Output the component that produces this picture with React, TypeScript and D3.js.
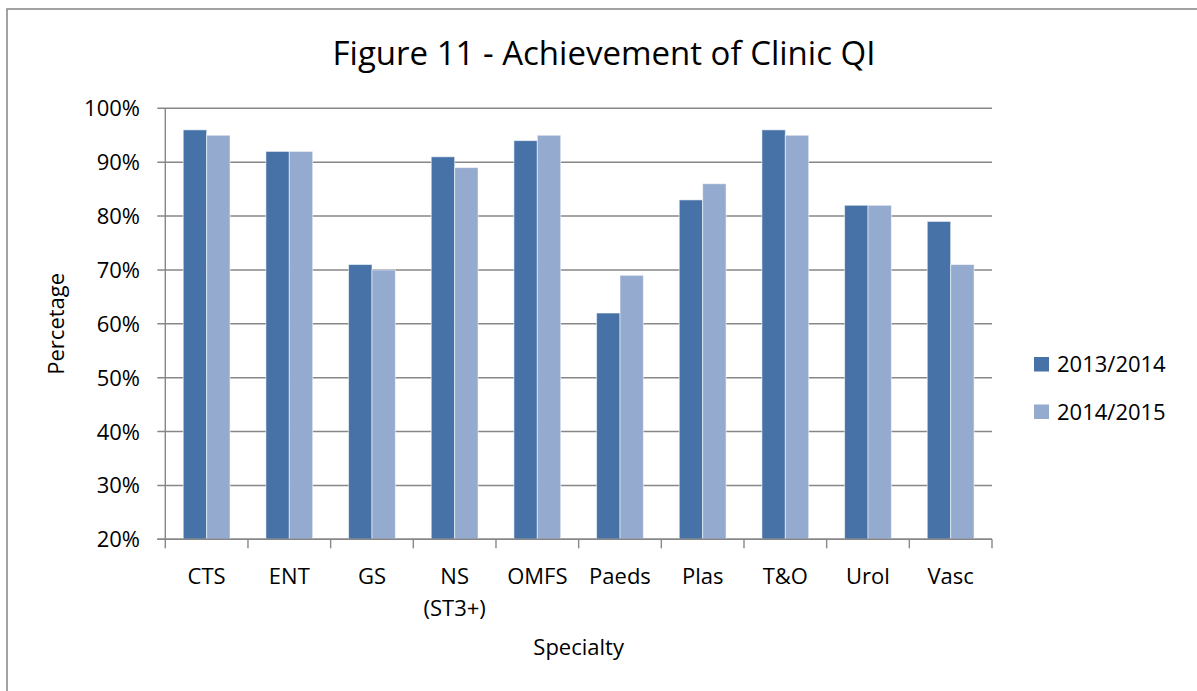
import React from "react";
import * as d3 from "d3";

const categories = ["CTS", "ENT", "GS", "NS\n(ST3+)", "OMFS", "Paeds", "Plas", "T&O", "Urol", "Vasc"];
const seriesNames = ["2013/2014", "2014/2015"];
const values2013 = [0.96, 0.92, 0.71, 0.91, 0.94, 0.62, 0.83, 0.96, 0.82, 0.79];
const values2015 = [0.95, 0.92, 0.70, 0.89, 0.95, 0.69, 0.86, 0.95, 0.82, 0.71];
const yTicks = [0.2, 0.3, 0.4, 0.5, 0.6, 0.7, 0.8, 0.9, 1.0];
const colors = ["#4672A7", "#95AACF"];

const W = 1197;
const H = 691;
const FONT = "'Open Sans', sans-serif";

export default function App() {
  const left = 165.3, right = 992, top = 108.3, bottom = 539.3;
  const x = d3.scaleBand<string>().domain(categories).range([left, right]).paddingInner(0).paddingOuter(0);
  const xs = d3.scaleBand<string>().domain(seriesNames).range([0, x.bandwidth()]).paddingInner(0).paddingOuter(0.766);
  const y = d3.scaleLinear().domain([0.2, 1]).range([bottom, top]);
  const fmt = d3.format(".0%");
  const series = [values2013, values2015];
  const gridColor = "#878787";

  return (
    <svg width={W} height={H} style={{ position: "absolute", left: 0, top: 0, display: "block", background: "#fff" }}>
      <rect x={7} y={9} width={W + 10} height={H + 10} fill="#fff" stroke="#8c8c8c" strokeWidth={1.6} />
      <text x={604} y={65} textAnchor="middle" fontFamily={FONT} fontSize={33} fill="#000">
        Figure 11 - Achievement of Clinic QI
      </text>
      {/* gridlines */}
      {yTicks.map((t) => (
        <g key={t}>
          <line x1={left - 8} x2={right} y1={y(t)} y2={y(t)} stroke={gridColor} strokeWidth={1.4} />
          <text x={140} y={y(t) + 8} textAnchor="end" fontFamily={FONT} fontSize={22} fill="#000">
            {fmt(t)}
          </text>
        </g>
      ))}
      {/* bars */}
      {series.map((vals, si) =>
        categories.map((c, i) => (
          <rect
            key={c + si}
            x={(x(c) as number) + (xs(seriesNames[si]) as number)}
            y={y(vals[i])}
            width={xs.bandwidth()}
            height={bottom - y(vals[i])}
            fill={colors[si]}
            stroke="rgba(255,255,255,0.55)"
            strokeWidth={1}
          />
        ))
      )}
      {/* axes */}
      <line x1={left} x2={left} y1={top} y2={bottom} stroke={gridColor} strokeWidth={1.4} />
      <line x1={left - 8} x2={right} y1={bottom} y2={bottom} stroke={gridColor} strokeWidth={1.4} />
      {categories.concat(["__end"]).map((c, i) => {
        const xx = i < categories.length ? (x(c) as number) : right;
        return <line key={"t" + i} x1={xx} x2={xx} y1={bottom} y2={bottom + 9} stroke={gridColor} strokeWidth={1.4} />;
      })}
      {categories.map((c) => {
        const lines = c.split("\n");
        const cx = (x(c) as number) + x.bandwidth() / 2;
        return (
          <text key={"l" + c} x={cx} y={584} textAnchor="middle" fontFamily={FONT} fontSize={22} fill="#000">
            {lines.map((ln, j) => (
              <tspan key={j} x={cx} dy={j === 0 ? 0 : 32}>
                {ln}
              </tspan>
            ))}
          </text>
        );
      })}
      <text x={(left + right) / 2} y={655} textAnchor="middle" fontFamily={FONT} fontSize={22} fill="#000">
        Specialty
      </text>
      <text
        transform={`translate(64, ${(top + bottom) / 2}) rotate(-90)`}
        textAnchor="middle"
        fontFamily={FONT}
        fontSize={22}
        fill="#000"
      >
        Percetage
      </text>
      {/* legend */}
      {seriesNames.map((s, i) => (
        <g key={s} transform={`translate(1034, ${357 + i * 47.5})`}>
          <rect x={0} y={0} width={15} height={14.5} fill={colors[i]} />
          <text x={23} y={15} fontFamily={FONT} fontSize={22} fill="#000">
            {s}
          </text>
        </g>
      ))}
    </svg>
  );
}
